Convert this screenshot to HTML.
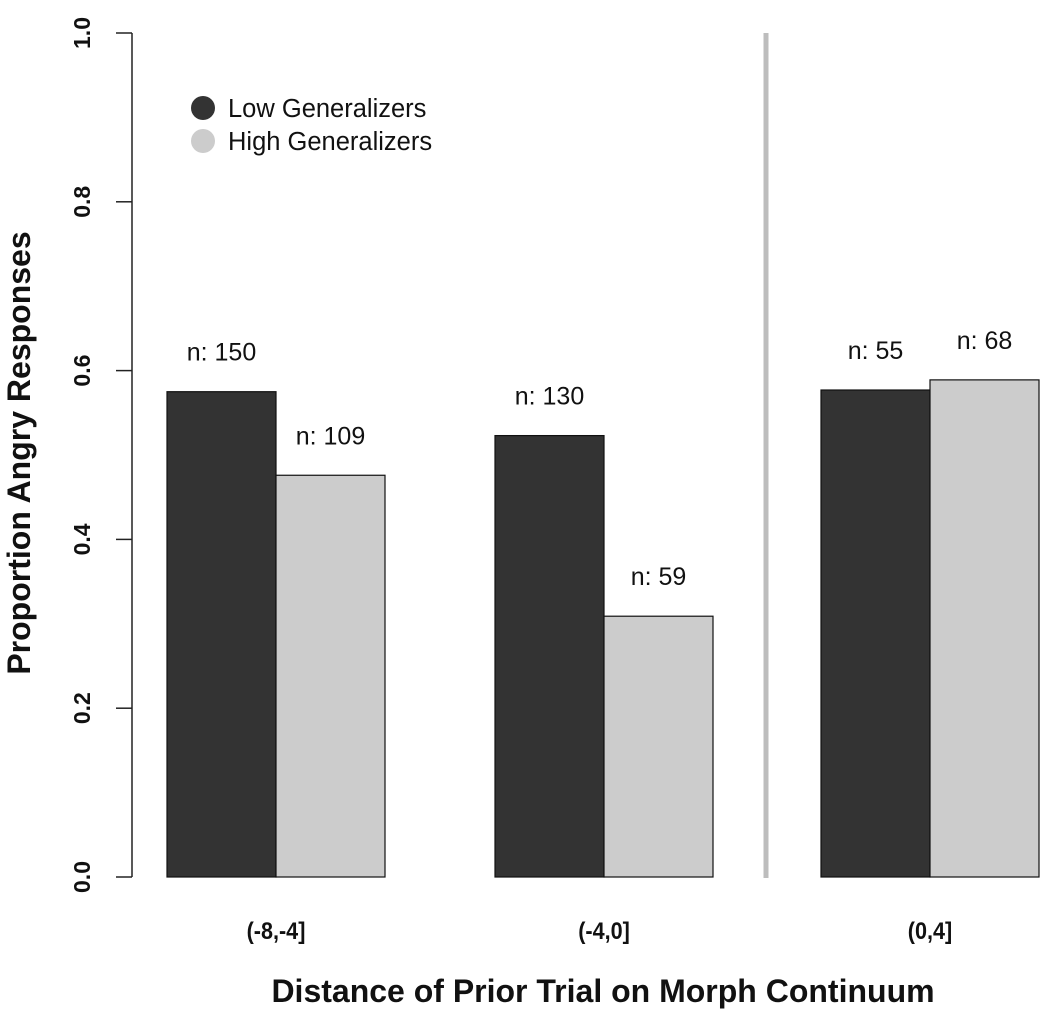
<!DOCTYPE html>
<html><head><meta charset="utf-8"><style>
html,body{margin:0;padding:0;background:#fff;}
svg{display:block;font-family:"Liberation Sans",Arial,sans-serif;}
</style></head><body>
<svg id="chart" width="1050" height="1014" viewBox="0 0 1050 1014">
<g id="axes"></g><g id="bars"></g><g id="labels"></g>
<line x1="766" y1="33" x2="766" y2="878" stroke="#bdbdbd" stroke-width="5"/>
<g>
<circle cx="203" cy="108" r="12" fill="#333"/>
<text x="228" y="117" font-size="25.5" fill="#111">Low Generalizers</text>
<circle cx="203" cy="141" r="12" fill="#ccc"/>
<text x="228" y="150" font-size="25.5" fill="#111">High Generalizers</text>
</g>
<text x="603" y="1002" font-size="32" font-weight="bold" text-anchor="middle" fill="#111">Distance of Prior Trial on Morph Continuum</text>
<text transform="translate(30,453) rotate(-90)" font-size="32" font-weight="bold" text-anchor="middle" fill="#111">Proportion Angry Responses</text>
</svg>
<script>
const categories = ["(-8,-4]", "(-4,0]", "(0,4]"];
const lowValues = [0.575, 0.523, 0.577];
const highValues = [0.476, 0.309, 0.589];
const lowCounts = ["n: 150", "n: 130", "n: 55"];
const highCounts = ["n: 109", "n: 59", "n: 68"];
const yTicks = [0, 0.2, 0.4, 0.6, 0.8, 1.0];
const yTickLabels = ["0.0", "0.2", "0.4", "0.6", "0.8", "1.0"];

const NS = "http://www.w3.org/2000/svg";
const y0 = 877, y1 = 33;
function yScale(v){ return y0 - v*(y0-y1); }
const groupStarts = [167, 495, 821];
const barW = 109;
function mk(tag, attrs, parent){ const e=document.createElementNS(NS,tag); for(const k in attrs) e.setAttribute(k,attrs[k]); parent.appendChild(e); return e; }
const axes=document.getElementById('axes'), bars=document.getElementById('bars'), labels=document.getElementById('labels');
const axis = mk('line',{x1:132,y1:yScale(0),x2:132,y2:yScale(1),stroke:'#222','stroke-width':1.5},axes);


yTicks.forEach((t,i)=>{
  const y=yScale(t);
  const tk=mk('line',{x1:116,y1:y,x2:132,y2:y,stroke:'#222','stroke-width':1.5},axes);
  
  
  const tl=mk('text',{transform:`translate(90,${y}) rotate(-90)`,'font-size':23,'font-weight':'bold','text-anchor':'middle',fill:'#111'},axes);
  tl.textContent=yTickLabels[i];
  
  
});
categories.forEach((c,i)=>{
  const x=groupStarts[i];
  const r1=mk('rect',{x:x,y:yScale(lowValues[i]),width:barW,height:yScale(0)-yScale(lowValues[i]),fill:'#333',stroke:'#111','stroke-width':1.2},bars);
  
  
  const r2=mk('rect',{x:x+barW,y:yScale(highValues[i]),width:barW,height:yScale(0)-yScale(highValues[i]),fill:'#ccc',stroke:'#111','stroke-width':1.2},bars);
  
  
  const t1=mk('text',{x:x+barW/2,y:yScale(lowValues[i])-31,'font-size':25,'text-anchor':'middle',fill:'#111'},labels);
  t1.textContent=lowCounts[i];
  
  
  const t2=mk('text',{x:x+barW*1.5,y:yScale(highValues[i])-31,'font-size':25,'text-anchor':'middle',fill:'#111'},labels);
  t2.textContent=highCounts[i];
  
  
  const cl=mk('text',{x:x+barW,y:939,'font-size':24,'font-weight':'bold','text-anchor':'middle',fill:'#111',transform:`translate(${(x+barW)*0.1},0) scale(0.9,1)`},labels);
  cl.textContent=c;
  
  
});
</script>
</body></html>
